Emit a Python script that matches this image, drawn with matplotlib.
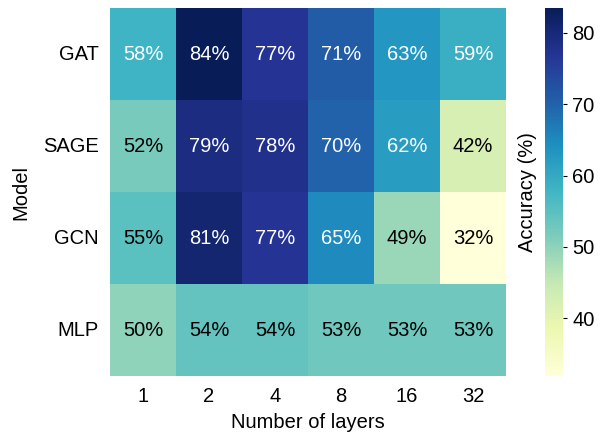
import numpy as np
import matplotlib
matplotlib.use('Agg')
import matplotlib.pyplot as plt
import seaborn as sns

plt.rcParams['font.family'] = ['Liberation Sans', 'DejaVu Sans']

models = ['GAT', 'SAGE', 'GCN', 'MLP']
layers = ['1', '2', '4', '8', '16', '32']

gat = [58.0, 83.5, 77.0, 71.0, 63.0, 59.0]
sage = [52.0, 79.0, 78.0, 70.0, 62.0, 42.0]
gcn = [55.0, 81.0, 77.0, 65.0, 49.0, 31.9]
mlp = [50.0, 54.0, 54.0, 53.0, 53.0, 53.0]

acc = np.array([gat, sage, gcn, mlp])

fig = plt.figure(figsize=(6.05, 4.36), dpi=100)
ax = fig.add_axes([0.1818, 0.1376, 0.6545, 0.844])
cax = fig.add_axes([0.9008, 0.1376, 0.0298, 0.844])

sns.heatmap(acc, ax=ax, cbar_ax=cax, cmap='YlGnBu', annot=True, fmt='.0f',
            annot_kws={'fontsize': 14.5}, xticklabels=layers, yticklabels=models)

# percent sign on the cell labels, pure black / white text
for t in ax.texts:
    t.set_text(t.get_text() + '%')
    if t.get_color() != 'w' and t.get_color() != 'white':
        t.set_color('black')

ax.tick_params(length=0, labelsize=14.5, pad=8)
ax.set_yticklabels(models, rotation=0)
ax.set_xlabel('Number of layers', fontsize=14.5, labelpad=5)
ax.set_ylabel('Model', fontsize=14.5, labelpad=9)

cbar = ax.collections[0].colorbar
cbar.ax.tick_params(labelsize=14.5, length=3)
cbar.set_label('Accuracy (%)', fontsize=14.5, labelpad=6)
cbar.ax.yaxis.set_label_position('left')

fig.savefig('out.png', dpi=100)
